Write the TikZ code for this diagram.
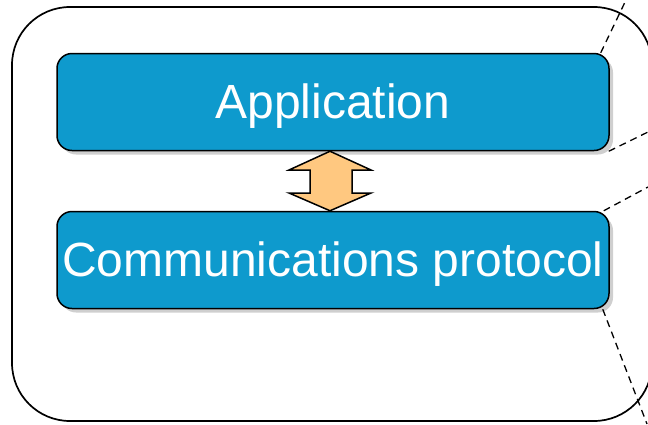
\documentclass[tikz,border=0pt]{standalone}
\usepackage{fontspec}
\setmainfont{Liberation Sans}
\usetikzlibrary{shadows}
\definecolor{layerblue}{HTML}{0E9ACD}
\definecolor{arrowtan}{HTML}{FFC880}
\definecolor{shadowgray}{HTML}{CFCFCF}
\tikzset{
  layerbox/.style={draw=black, line width=1.5pt, fill=layerblue, rounded corners=15pt,
    minimum width=552pt, minimum height=97pt, inner sep=0pt, text=white,
    font=\fontsize{48}{52}\selectfont, text height=42pt, text depth=10pt,
    drop shadow={shadow xshift=4pt, shadow yshift=-4pt, fill=shadowgray, opacity=1}},
  leader/.style={draw=black, line width=1.3pt, dash pattern=on 7pt off 5pt}
}
\begin{document}
\begin{tikzpicture}[x=1pt, y=-1pt]
  \useasboundingbox (0,0) rectangle (648,424);
  % device outline
  \draw[line width=1.7pt, rounded corners=58pt] (12,7) rectangle (652,421);
  % protocol stack layers
  \node[layerbox] (app) at (333,102) {Application};
  \node[layerbox] (comm) at (333,260) {Communications protocol};
  % two-way exchange between the layers
  \draw[line width=1.5pt, fill=arrowtan, line join=miter]
    (app.south -| 330,0) -- (371,170) -- (352,170) -- (352,193) -- (371,193)
    -- (comm.north -| 330,0) -- (289,193) -- (310,193) -- (310,170) -- (289,170) -- cycle;
  % leaders to the detail views
  \coordinate (z1) at (626,0);
  \coordinate (z2) at (648,132);
  \coordinate (z3) at (648,187);
  \coordinate (z4) at (647,424);
  \draw[leader] ([xshift=-9pt]app.north east) -- (z1);
  \draw[leader] ([xshift=-1pt]app.south east) -- (z2);
  \draw[leader] ([xshift=-6pt]comm.north east) -- (z3);
  \draw[leader] ([xshift=-7pt]comm.south east) -- (z4);
\end{tikzpicture}
\end{document}
